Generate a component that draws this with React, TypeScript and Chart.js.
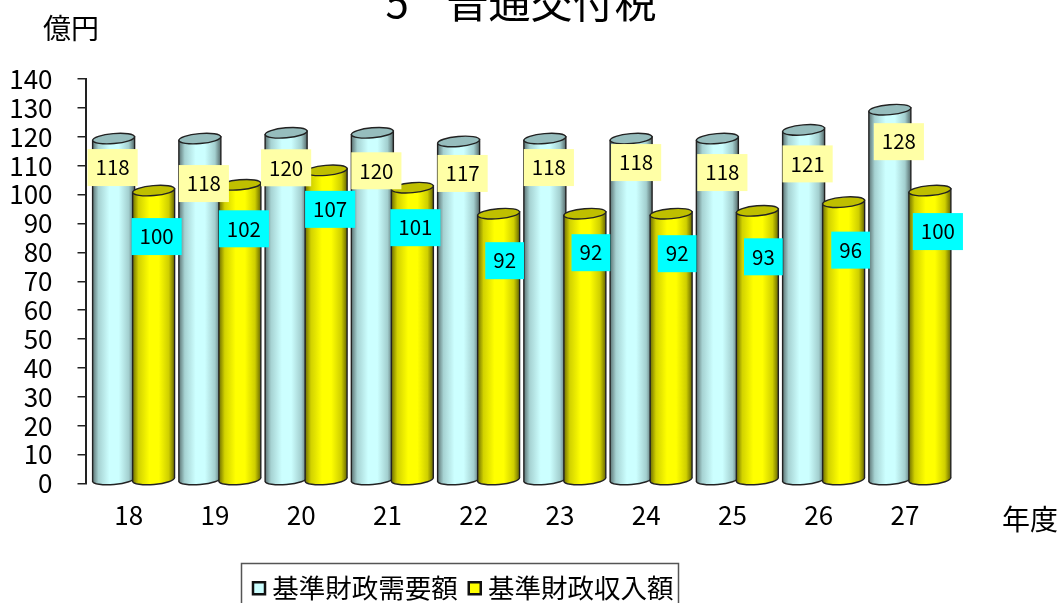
import React, { useEffect, useRef } from "react";
import { Chart, registerables } from "chart.js";

Chart.register(...registerables);

const years = ["18", "19", "20", "21", "22", "23", "24", "25", "26", "27"];
const demand = [118, 118, 120, 120, 117, 118, 118, 118, 121, 128];
const revenue = [100, 102, 107, 101, 92, 92, 92, 93, 96, 100];
const demandNudgeX = [-1, 4, 0, 4, 4, 4, 5, 5, 4, 9];
const demandNudgeY = [25, 41, 31, 34, 28, 25, 20, 30, 30, 28];
const revenueNudgeX = [3, 4, 4, 3, 6, 6, 6, 6, 7, 8];
const revenueNudgeY = [42, 40, 35, 36, 43, 35, 36, 42, 44, 37];

const FONT = '"Noto Sans CJK JP", "Liberation Sans", sans-serif';
const SHIFT_X = 5;
const LIFT = 4;
const CYL_W = 42;
const RY = 5;
const TILT = (-5 * Math.PI) / 180;

const looks = [
  {
    stops: ["#5d7474", "#a6d2d2", "#ccffff", "#ccffff", "#a3cfcf", "#566a6a"],
    top: "#96bdbd",
    labelBg: "#ffffa6",
    nudgeX: demandNudgeX,
    nudgeY: demandNudgeY,
  },
  {
    stops: ["#6e6e00", "#d2d200", "#ffff00", "#ffff00", "#cfcf00", "#666600"],
    top: "#bfbf00",
    labelBg: "#00ffff",
    nudgeX: revenueNudgeX,
    nudgeY: revenueNudgeY,
  },
];

const cylinderPlugin = {
  id: "cylinders",
  beforeDatasetDraw() {
    return false;
  },
  beforeDatasetsDraw(chart: any) {
    const { ctx } = chart;
    const rx = CYL_W / 2;
    const base = chart.scales.y.getPixelForValue(0);
    const items: any[] = [];
    chart.data.datasets.forEach((_: any, di: number) => {
      chart.getDatasetMeta(di).data.forEach((el: any, i: number) => items.push({ el, di, i }));
    });
    items.sort((a, b) => a.i - b.i || a.di - b.di);
    for (const { el, di } of items) {
      const look = looks[di];
      const cx = el.x + SHIFT_X;
      const topY = el.y - LIFT;
      const botY = base - LIFT;
      const dy = Math.sin(TILT) * rx;
      const g = ctx.createLinearGradient(cx - rx, 0, cx + rx, 0);
      [0, 0.14, 0.4, 0.62, 0.86, 1].forEach((p, k) => g.addColorStop(p, look.stops[k]));
      ctx.save();
      ctx.beginPath();
      ctx.moveTo(cx - rx, topY - dy);
      ctx.lineTo(cx - rx, botY - dy);
      ctx.ellipse(cx, botY, rx, RY, TILT, Math.PI, 0, true);
      ctx.lineTo(cx + rx, topY + dy);
      ctx.closePath();
      ctx.fillStyle = g;
      ctx.fill();
      ctx.strokeStyle = "#222";
      ctx.lineWidth = 1.4;
      ctx.stroke();
      ctx.beginPath();
      ctx.ellipse(cx, topY, rx, RY, TILT, 0, Math.PI * 2);
      ctx.fillStyle = look.top;
      ctx.fill();
      ctx.stroke();
      ctx.restore();
    }
  },
  afterDatasetsDraw(chart: any) {
    const { ctx } = chart;
    chart.data.datasets.forEach((ds: any, di: number) => {
      const look = looks[di];
      chart.getDatasetMeta(di).data.forEach((el: any, i: number) => {
        const text = String(ds.data[i]);
        const x = el.x + SHIFT_X + look.nudgeX[i];
        const y = el.y + look.nudgeY[i];
        ctx.save();
        ctx.font = `20.5px ${FONT}`;
        const w = ctx.measureText(text).width + 16;
        ctx.fillStyle = look.labelBg;
        ctx.fillRect(x - w / 2, y - 18.5, w, 37);
        ctx.fillStyle = "#000";
        ctx.textAlign = "center";
        ctx.textBaseline = "middle";
        ctx.fillText(text, x, y);
        ctx.restore();
      });
    });
  },
  afterLayout(chart: any) {
    const lg = chart.legend;
    lg.left = 242;
    lg.right = 1059;
    lg.top = 558;
    const tb = chart.titleBlock;
    tb.left = 0;
    tb.right = 1042;
  },
  afterDraw(chart: any) {
    const { ctx } = chart;
    ctx.save();
    ctx.fillStyle = "#000";
    ctx.textBaseline = "middle";
    ctx.font = `28px ${FONT}`;
    ctx.fillText("億円", 43, 28);
    ctx.fillText("年度", 1002, 519);
    // legend frame and swatches
    ctx.strokeStyle = "#555";
    ctx.lineWidth = 1.5;
    ctx.strokeRect(241.5, 563.5, 437, 60);
    chart.legend.legendHitBoxes.forEach((box: any, i: number) => {
      const sx = box.left - 6;
      const sy = box.top + box.height / 2 - 6;
      ctx.fillStyle = i === 0 ? "#ccffff" : "#ffff00";
      ctx.fillRect(sx, sy, 12, 12);
      ctx.strokeStyle = "#111";
      ctx.lineWidth = 2.5;
      ctx.strokeRect(sx, sy, 12, 12);
    });
    ctx.restore();
  },
};

export default function App() {
  const ref = useRef<HTMLCanvasElement | null>(null);
  useEffect(() => {
    const chart = new Chart(ref.current as HTMLCanvasElement, {
      type: "bar",
      data: {
        labels: years,
        datasets: [
          { label: "基準財政需要額", data: demand, backgroundColor: "#ccffff", categoryPercentage: 80 / 86.2, barPercentage: 1 },
          { label: "基準財政収入額", data: revenue, backgroundColor: "#ffff00", categoryPercentage: 80 / 86.2, barPercentage: 1 },
        ],
      },
      options: {
        animation: false,
        responsive: false,
        devicePixelRatio: 1,
        layout: { padding: { left: 0, right: 111, top: 0, bottom: 0 } },
        plugins: {
          tooltip: { enabled: false },
          title: {
            display: true,
            text: "5    普通交付税",
            color: "#000",
            font: { family: FONT, size: 42, weight: "normal" },
            padding: { top: -23.2, bottom: 51.8 },
            align: "center",
          },
          legend: {
            display: true,
            position: "bottom",
            align: "start",
            labels: {
              color: "#000",
              font: { family: FONT, size: 26.5 },
              boxWidth: 0,
              boxHeight: 0,
              padding: 17,
              generateLabels: (c: any) =>
                c.data.datasets.map((d: any, i: number) => ({
                  text: d.label,
                  fillStyle: "transparent",
                  strokeStyle: "transparent",
                  lineWidth: 0,
                  datasetIndex: i,
                  fontColor: "#000",
                })),
            },
          },
        },
        scales: {
          x: {
            grid: { display: false },
            border: { display: false },
            ticks: { color: "#000", font: { family: FONT, size: 26 }, padding: 8 },
            afterFit: (s: any) => {
              s.height = 66;
            },
          },
          y: {
            min: 0,
            max: 140,
            grid: { drawOnChartArea: false, drawTicks: true, tickLength: 8, color: "#222", lineWidth: 1.5 },
            border: { display: true, color: "#222", width: 2 },
            ticks: { stepSize: 10, autoSkip: false, color: "#000", font: { family: FONT, size: 26 }, padding: 25 },
            afterFit: (s: any) => {
              s.width = 85.5;
            },
          },
        },
      },
      plugins: [cylinderPlugin],
    } as any);
    return () => chart.destroy();
  }, []);
  return (
    <div style={{ position: "fixed", left: 0, top: 0, width: 1059, height: 603, background: "#fff", overflow: "hidden" }}>
      <canvas ref={ref} width={1059} height={603} style={{ display: "block" }} />
    </div>
  );
}
